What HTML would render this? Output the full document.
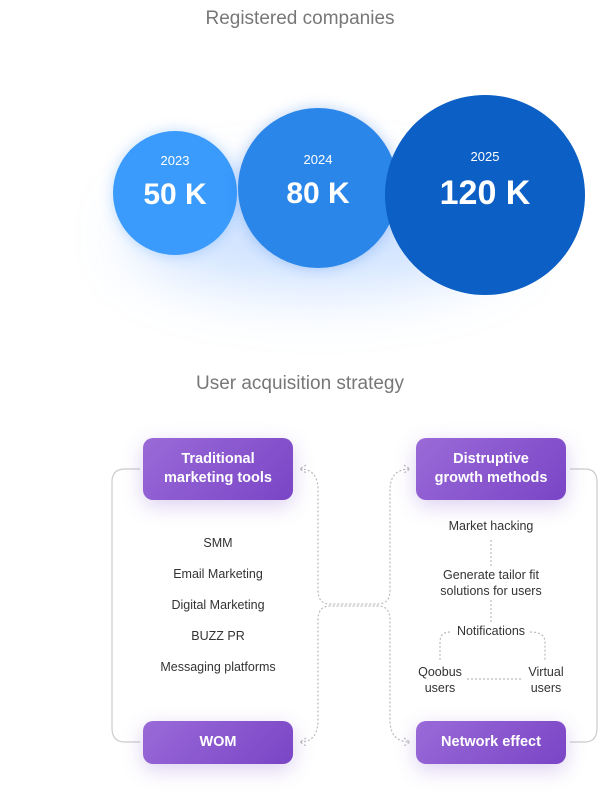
<!DOCTYPE html>
<html><head><style>
body{margin:0;width:600px;height:800px;background:#fff;position:relative;overflow:hidden;font-family:"Liberation Sans",sans-serif}
.t{position:absolute;left:0;width:600px;text-align:center;color:#777;font-size:19px}
.c{position:absolute;border-radius:50%;color:#fff;text-align:center}
.c .y{font-size:13px}
.c .v{font-weight:bold}
.b{position:absolute;border-radius:10px;color:#fff;font-weight:bold;font-size:14.5px;text-align:center;display:flex;align-items:center;justify-content:center;line-height:19px;background:linear-gradient(135deg,#9a6ad8,#7a45c6);box-shadow:0 6px 20px rgba(120,70,200,.25)}
.l{position:absolute;font-size:12.5px;color:#333;text-align:center;line-height:16px}
</style></head><body>
<div class="t" style="top:8px">Registered companies</div>
<div style="position:absolute;left:130px;top:180px;width:380px;height:110px;border-radius:50%;background:rgba(60,140,255,.25);filter:blur(30px)"></div>
<div class="c" style="left:113px;top:131px;width:124px;height:124px;background:#3a9bfc;box-shadow:0 0 14px rgba(50,140,250,.3)"><div class="y" style="margin-top:22px">2023</div><div class="v" style="font-size:30px;margin-top:10px">50 K</div></div>
<div class="c" style="left:238px;top:108px;width:160px;height:160px;background:#2b86e9;box-shadow:0 0 14px rgba(30,110,230,.3)"><div class="y" style="margin-top:44px">2024</div><div class="v" style="font-size:30px;margin-top:10px">80 K</div></div>
<div class="c" style="left:385px;top:95px;width:200px;height:200px;background:#0c5fc4"><div class="y" style="margin-top:54px">2025</div><div class="v" style="font-size:34px;margin-top:10px">120 K</div></div>
<div class="t" style="top:373px">User acquisition strategy</div>
<svg style="position:absolute;left:0;top:0" width="600" height="800">
<g fill="none" stroke="#ccc" stroke-width="1.2">
<path d="M140 469 H125 Q112 469 112 482 V728 Q112 742 125 742 H140"/>
<path d="M570 469 H585 Q597 469 597 482 V728 Q597 742 585 742 H570"/>
</g>
<g fill="none" stroke="#bbb" stroke-width="1.2" stroke-dasharray="2 2">
<path d="M300 469 Q318 469 318 490 V590 Q318 604 330 604 H378 Q390 604 390 590 V490 Q390 469 410 469"/>
<path d="M300 742 Q318 742 318 720 V620 Q318 606 330 606 H378 Q390 606 390 620 V720 Q390 742 410 742"/>
<path d="M491 540 V566 M491 600 V622 M450 632 Q440 632 440 642 V660 M530 632 Q545 632 545 642 V660 M467 679 H522"/>
<path d="M306 465 L300 469 L306 473 M404 465 L410 469 L404 473 M306 738 L300 742 L306 746 M404 738 L410 742 L404 746"/>
</g>
</svg>
<div class="b" style="left:143px;top:438px;width:150px;height:62px">Traditional<br>marketing tools</div>
<div class="b" style="left:416px;top:438px;width:150px;height:62px">Distruptive<br>growth methods</div>
<div class="b" style="left:143px;top:721px;width:150px;height:43px">WOM</div>
<div class="b" style="left:416px;top:721px;width:150px;height:43px">Network effect</div>
<div class="l" style="left:143px;width:150px;top:535px">SMM</div>
<div class="l" style="left:133px;width:170px;top:566px">Email Marketing</div>
<div class="l" style="left:133px;width:170px;top:597px">Digital Marketing</div>
<div class="l" style="left:143px;width:150px;top:628px">BUZZ PR</div>
<div class="l" style="left:123px;width:190px;top:659px">Messaging platforms</div>
<div class="l" style="left:406px;width:170px;top:518px">Market hacking</div>
<div class="l" style="left:406px;width:170px;top:567px">Generate tailor fit<br>solutions for users</div>
<div class="l" style="left:406px;width:170px;top:623px">Notifications</div>
<div class="l" style="left:405px;width:70px;top:664px">Qoobus<br>users</div>
<div class="l" style="left:511px;width:70px;top:664px">Virtual<br>users</div>
</body></html>
